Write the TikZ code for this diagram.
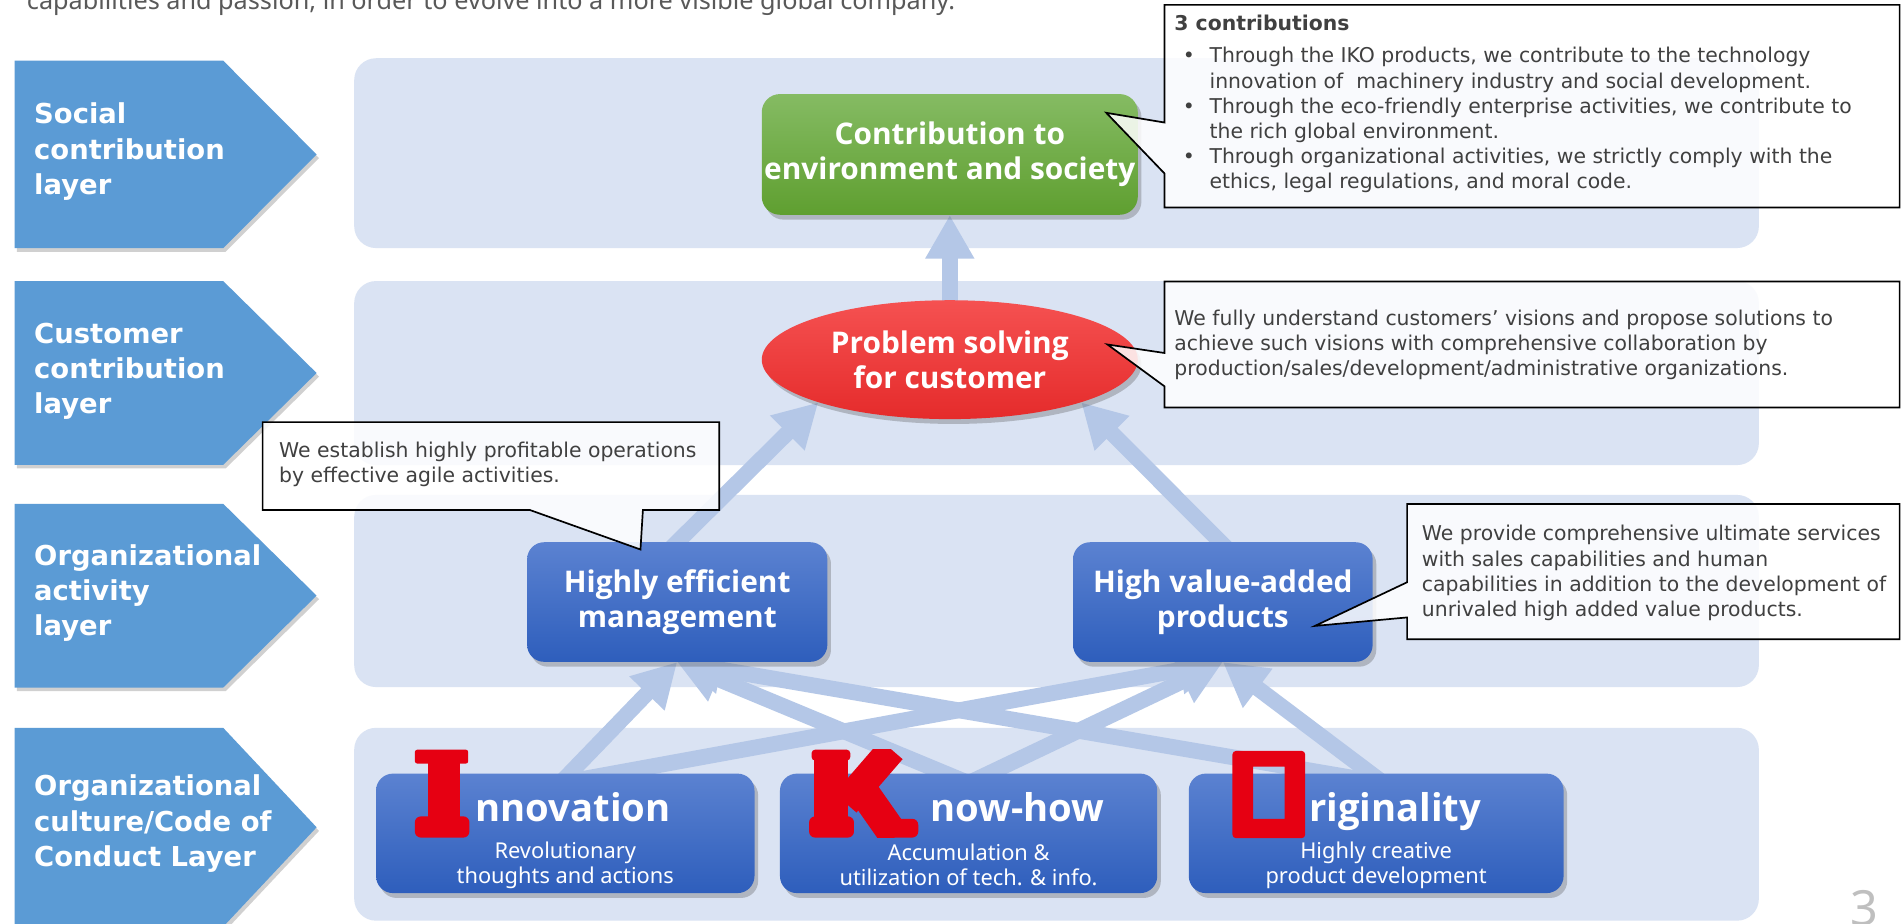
\documentclass[tikz,border=0pt]{standalone}
\usepackage{fontspec}
\setmainfont{DejaVu Sans}
\newfontfamily\notofont{Noto Sans}
\newfontfamily\titlefont{Open Sans}
\usetikzlibrary{arrows.meta,shapes.geometric,shadows,calc}
\definecolor{bandc}{HTML}{DAE3F3}
\definecolor{chevc}{HTML}{5B9BD5}
\definecolor{arrowc}{HTML}{B4C7E7}
\definecolor{txtc}{HTML}{404040}
\definecolor{toptxtc}{HTML}{595959}
\definecolor{pagec}{HTML}{BFBFBF}
\definecolor{redc}{HTML}{E60012}
\definecolor{boxtop}{HTML}{5B82D1}
\definecolor{boxbot}{HTML}{2E5EBC}
\definecolor{greentop}{HTML}{85BB63}
\definecolor{greenbot}{HTML}{5F9F30}
\definecolor{redtop}{HTML}{F55151}
\definecolor{redbot}{HTML}{E52B2B}
\pgfdeclarelayer{bg}
\pgfdeclarelayer{arrowlayer}
\pgfsetlayers{bg,arrowlayer,main}
\tikzset{
  chev/.style={fill=chevc, drop shadow={shadow xshift=2pt, shadow yshift=-3pt, opacity=0.3, fill=black!60}},
  chevtxt/.style={text=white, font=\bfseries\fontsize{22.6}{29}\selectfont, align=left, anchor=west, inner sep=0pt},
  bigarrow/.style={draw=arrowc, line width=13pt, -{Triangle[width=38pt,length=36pt]}},
  boxshadow/.style={drop shadow={shadow xshift=3pt, shadow yshift=-4pt, opacity=0.3, fill=black!70}},
  bluebox/.style={rectangle, rounded corners=14pt, top color=boxtop, bottom color=boxbot, inner sep=0pt, boxshadow},
  titletxt/.style={text=white, font=\titlefont\bfseries\fontsize{24.6}{29}\selectfont, align=center},
  bigword/.style={text=white, font=\titlefont\bfseries\fontsize{31.5}{36}\selectfont, anchor=base west, inner sep=0pt},
  subtxt/.style={text=white, font=\notofont\fontsize{18}{20.5}\selectfont, align=center, inner sep=0pt},
  callout/.style={draw=black, line width=1.4pt, fill=white, fill opacity=0.85},
  calltxt/.style={text=txtc, font=\fontsize{16.8}{20.8}\selectfont, align=left, anchor=north west, inner sep=0pt},
}
\newcommand{\bul}{\makebox[29pt][l]{\hspace{7pt}•}}
\newcommand{\hang}{\hspace*{29pt}}
\begin{document}
\begin{tikzpicture}[x=1pt,y=-1pt]
\useasboundingbox (0,0) rectangle (1568,761);

\begin{pgfonlayer}{bg}
\fill[white] (0,0) rectangle (1568,761);
% bands
\fill[bandc, rounded corners=18pt] (292,48) rectangle (1450,204.5);
\fill[bandc, rounded corners=18pt] (292,231.7) rectangle (1450,383.4);
\fill[bandc, rounded corners=18pt] (292,408) rectangle (1450,566.4);
\fill[bandc, rounded corners=18pt] (292,600) rectangle (1450,759);
% chevrons
\path[chev] (12,50) -- (184,50) -- (261,127.3) -- (184,204.6) -- (12,204.6) -- cycle;
\path[chev] (12,231.7) -- (184,231.7) -- (261,307.5) -- (184,383.2) -- (12,383.2) -- cycle;
\path[chev] (12,415.3) -- (184,415.3) -- (261,491) -- (184,566.8) -- (12,566.8) -- cycle;
\path[chev] (12,600) -- (184,600) -- (261,682) -- (184,764) -- (12,764) -- cycle;
\end{pgfonlayer}

% top text (cut off)
\node[anchor=base west, inner sep=0pt, text=toptxtc, font=\notofont\fontsize{20.8}{24}\selectfont] (toptxt) at (22,7.5) {capabilities and passion, in order to evolve into a more visible global company.};

\node[chevtxt] (l1) at (28,125) {Social\\contribution\\layer};
\node[chevtxt] (l2) at (28,306) {Customer\\contribution\\layer};
\node[chevtxt] (l3) at (28,489) {Organizational\\activity\\layer};
\node[chevtxt] (l4) at (28,679) {Organizational\\culture/Code of\\Conduct Layer};

% main nodes
\node[rectangle, rounded corners=15pt, top color=greentop, bottom color=greenbot, inner sep=0pt, boxshadow,
      minimum width=310pt, minimum height=99.5pt, titletxt] (contrib) at (783,127.3) {Contribution to\\environment and society};
\node[ellipse, top color=redtop, bottom color=redbot, inner sep=0pt, boxshadow,
      minimum width=310pt, minimum height=98pt, titletxt] (prob) at (783,296.5) {Problem solving\\for customer};
\node[bluebox, minimum width=247.5pt, minimum height=98.6pt, titletxt] (mgmt) at (558.3,496.3) {Highly efficient\\management};
\node[bluebox, minimum width=247pt, minimum height=98.6pt, titletxt] (hv) at (1008.1,496.3) {High value-added\\products};
\node[bluebox, minimum width=312pt, minimum height=98.5pt] (inno) at (466,687) {};
\node[bluebox, minimum width=311pt, minimum height=98.5pt] (know) at (798.5,687) {};
\node[bluebox, minimum width=309pt, minimum height=98.5pt] (orig) at (1134.5,687) {};

% arrows (behind nodes)
\begin{pgfonlayer}{arrowlayer}
\draw[bigarrow] ($(prob.north)+(0,6)$) -- (contrib.south);
\draw[bigarrow] ($(mgmt.north)+(-6,6)$) -- (prob.198);
\draw[bigarrow] ($(hv.north)+(4,6)$) -- (prob.-18);
\draw[bigarrow] ($(inno.north)+(-4,8)$) -- (mgmt.south);
\draw[bigarrow] ($(inno.north)+(-4,8)$) -- (hv.south);
\draw[bigarrow] ($(know.north)+(0,8)$) -- (mgmt.south);
\draw[bigarrow] ($(know.north)+(0,8)$) -- (hv.south);
\draw[bigarrow] ($(orig.north)+(6,8)$) -- (mgmt.south);
\draw[bigarrow] ($(orig.north)+(6,8)$) -- (hv.south);
\end{pgfonlayer}

% bottom box texts
\node[bigword] (innow) at (392,677) {nnovation};
\node[bigword] (knoww) at (767,677) {now-how};
\node[bigword] (origw) at (1079,677) {riginality};
\node[subtxt] (innos) at (466,713) {Revolutionary\\thoughts and actions};
\node[subtxt] (knows) at (798.5,713) {Accumulation \&\\utilization of tech. \& info.};
\node[subtxt] (origs) at (1134.5,713) {Highly creative\\product development};

% red letters
\fill[redc, rounded corners=2pt] (342,618) rectangle (386,629.5);
\fill[redc] (353,620) rectangle (379,680);
\fill[redc, rounded corners=5pt] (342,673) rectangle (387,690.5);
\begin{scope}
\clip (664,618) rectangle (760,690.5);
\fill[redc] (671,618) rectangle (699,690);
\fill[redc, rounded corners=3pt] (669,618) rectangle (701,627);
\fill[redc, rounded corners=5pt] (667,673) rectangle (704,690.5);
\draw[redc, line width=24pt] (697,662) -- (735,618);
\draw[redc, line width=25pt] (703,640) -- (738,690);
\fill[redc, rounded corners=5pt] (722,675) rectangle (757,690.5);
\end{scope}
\fill[redc, even odd rule] [rounded corners=3pt] (1016,619) rectangle (1076,691) [sharp corners] (1033,632) rectangle (1059,675);

% callouts
\path[callout] (960,4) -- (1566,4) -- (1566,171) -- (960,171) -- (960,143) -- (912,93) -- (960,101) -- cycle;
\path[callout] (960,232) -- (1566,232) -- (1566,336) -- (960,336) -- (960,318.5) -- (913,284) -- (960,291) -- cycle;
\path[callout] (216.5,348) -- (593,348) -- (593,420.5) -- (530,420.5) -- (528,453) -- (437,420.5) -- (216.5,420.5) -- cycle;
\path[callout] (1160,415.5) -- (1566,415.5) -- (1566,527) -- (1160,527) -- (1160,509) -- (1084,516) -- (1160,480) -- cycle;

\node[calltxt] (c1) at (968,12) {\textbf{3 contributions}\\[6pt]
\bul Through the IKO products, we contribute to the technology\\
\hang innovation of \ machinery industry and social development.\\
\bul Through the eco-friendly enterprise activities, we contribute to\\
\hang the rich global environment.\\
\bul Through organizational activities, we strictly comply with the\\
\hang ethics, legal regulations, and moral code.};
\node[calltxt] (c2) at (968,255) {We fully understand customers’ visions and propose solutions to\\
achieve such visions with comprehensive collaboration by\\
production/sales/development/administrative organizations.};
\node[calltxt] (c3) at (230,364) {We establish highly profitable operations\\by effective agile activities.};
\node[calltxt] (c4) at (1172,433) {We provide comprehensive ultimate services\\
with sales capabilities and human\\
capabilities in addition to the development of\\
unrivaled high added value products.};

% page number
\node[anchor=north, inner sep=0pt, text=pagec, font=\notofont\fontsize{40}{40}\selectfont] (pnum) at (1537,734) {3};
\end{tikzpicture}
\end{document}
